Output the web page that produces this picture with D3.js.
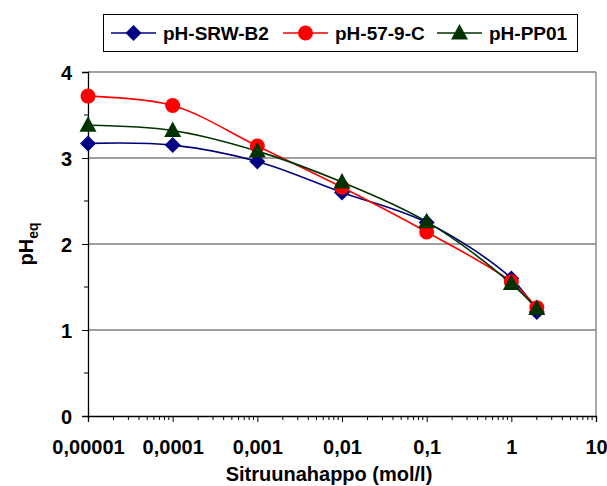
<!DOCTYPE html>
<html><head><meta charset="utf-8">
<script src="https://cdn.jsdelivr.net/npm/d3@7"></script>
<style>body{margin:0;background:#fff}svg{display:block;font-family:"Liberation Sans",Arial,sans-serif}</style>
</head><body>
<svg id="c" width="607" height="486"></svg>
<script>
const concentrations = [0.00001, 0.0001, 0.001, 0.01, 0.1, 1, 2];
const seriesNames = ["pH-SRW-B2", "pH-57-9-C", "pH-PP01"];
const srwB2 = [3.17, 3.15, 2.96, 2.60, 2.25, 1.60, 1.21];
const pp579C = [3.72, 3.61, 3.14, 2.66, 2.14, 1.56, 1.26];
const pp01 = [3.38, 3.32, 3.08, 2.72, 2.26, 1.54, 1.25];
const xTickLabels = ["0,00001", "0,0001", "0,001", "0,01", "0,1", "1", "10"];
const yTickLabels = ["0", "1", "2", "3", "4"];

const colors = ["#000080", "#FF0000", "#003300"];
const shapes = ["diamond", "circle", "triangle"];
const values = [srwB2, pp579C, pp01];
const FONT = "Liberation Sans, Arial, sans-serif";

const svg = d3.select("#c");
const L = 88, R = 596, T = 72, B = 416;
const x = d3.scaleLog().domain([1e-5, 10]).range([L, R]);
const y = d3.scaleLinear().domain([0, 4]).range([B, T]);

// gridlines
const g = svg.append("g");
[1, 2, 3, 4].forEach(v => {
  g.append("line").attr("x1", L).attr("x2", R).attr("y1", y(v)).attr("y2", y(v))
    .attr("stroke", "#808080").attr("stroke-width", 1.3);
});
g.append("line").attr("x1", R).attr("x2", R).attr("y1", T).attr("y2", B)
  .attr("stroke", "#808080").attr("stroke-width", 1.3);

// x axis
const xMajor = [1e-5, 1e-4, 1e-3, 1e-2, 1e-1, 1, 10];
const xMinor = [];
for (let e = -5; e < 1; e++) for (let m = 2; m <= 9; m++) xMinor.push(m * Math.pow(10, e));
const xAxis = svg.append("g").attr("transform", `translate(0,${B})`)
  .call(d3.axisBottom(x).tickValues(xMajor).tickSize(6).tickFormat((d, i) => xTickLabels[i]));
xAxis.select(".domain").attr("stroke", "#000").attr("stroke-width", 1.3);
xAxis.selectAll(".tick line").attr("stroke", "#000");
xAxis.selectAll("text").attr("font-size", 20).attr("font-weight", "bold").attr("y", 38).attr("dy", 0)
  .attr("font-family", FONT).attr("fill", "#000");
svg.append("g").selectAll("line").data(xMinor).join("line")
  .attr("x1", d => x(d)).attr("x2", d => x(d)).attr("y1", B).attr("y2", B + 4)
  .attr("stroke", "#000");

// y axis
const yAxis = svg.append("g").attr("transform", `translate(${L},0)`)
  .call(d3.axisLeft(y).tickValues([0, 1, 2, 3, 4]).tickSize(6).tickPadding(10).tickFormat((d, i) => yTickLabels[i]));
yAxis.select(".domain").attr("stroke", "#000").attr("stroke-width", 1.3);
yAxis.selectAll(".tick line").attr("stroke", "#000");
yAxis.selectAll("text").attr("font-size", 20).attr("font-weight", "bold").attr("dy", "0.36em")
  .attr("font-family", FONT).attr("fill", "#000");
svg.append("g").selectAll("line").data([0.5, 1.5, 2.5, 3.5]).join("line")
  .attr("x1", L - 4).attr("x2", L).attr("y1", d => y(d)).attr("y2", d => y(d))
  .attr("stroke", "#000");

// axis titles
svg.append("text").attr("x", 329).attr("y", 481).attr("text-anchor", "middle")
  .attr("font-size", 20).attr("font-weight", "bold").text("Sitruunahappo (mol/l)");
const yt = svg.append("text").attr("transform", "translate(33,244) rotate(-90)")
  .attr("text-anchor", "middle").attr("font-size", 20).attr("font-weight", "bold");
yt.append("tspan").text("pH");
yt.append("tspan").attr("font-size", 14).attr("dy", 5).text("eq");

// symbols
function drawMarker(sel, shape, color, cx, cy) {
  if (shape === "circle") {
    sel.append("circle").attr("cx", cx).attr("cy", cy).attr("r", 7.5).attr("fill", color);
  } else if (shape === "diamond") {
    const s = 8;
    sel.append("path").attr("d", `M${cx},${cy - s}L${cx + s},${cy}L${cx},${cy + s}L${cx - s},${cy}Z`).attr("fill", color);
  } else {
    sel.append("path").attr("d", `M${cx},${cy - 9}L${cx + 8.5},${cy + 6.5}L${cx - 8.5},${cy + 6.5}Z`).attr("fill", color);
  }
}

const line = d3.line().x((d, i) => x(concentrations[i])).y(d => y(d)).curve(d3.curveCatmullRom.alpha(0.5));
values.forEach((vals, k) => {
  svg.append("path").attr("d", line(vals)).attr("fill", "none")
    .attr("stroke", colors[k]).attr("stroke-width", 1.6);
});
values.forEach((vals, k) => {
  const gg = svg.append("g");
  vals.forEach((v, i) => drawMarker(gg, shapes[k], colors[k], x(concentrations[i]), y(v)));
});

// legend
const lg = svg.append("g");
lg.append("rect").attr("x", 103.5).attr("y", 14.5).attr("width", 474).attr("height", 37)
  .attr("fill", "#fff").attr("stroke", "#000").attr("stroke-width", 1);
const legX = [111, 283, 437];
seriesNames.forEach((n, k) => {
  lg.append("line").attr("x1", legX[k]).attr("x2", legX[k] + 45).attr("y1", 33).attr("y2", 33)
    .attr("stroke", colors[k]).attr("stroke-width", 1.6);
  drawMarker(lg, shapes[k], colors[k], legX[k] + 22.5, 33);
  lg.append("text").attr("x", legX[k] + 52).attr("y", 39.5).attr("font-size", 19)
    .attr("font-weight", "bold").text(n);
});
</script>
</body></html>
